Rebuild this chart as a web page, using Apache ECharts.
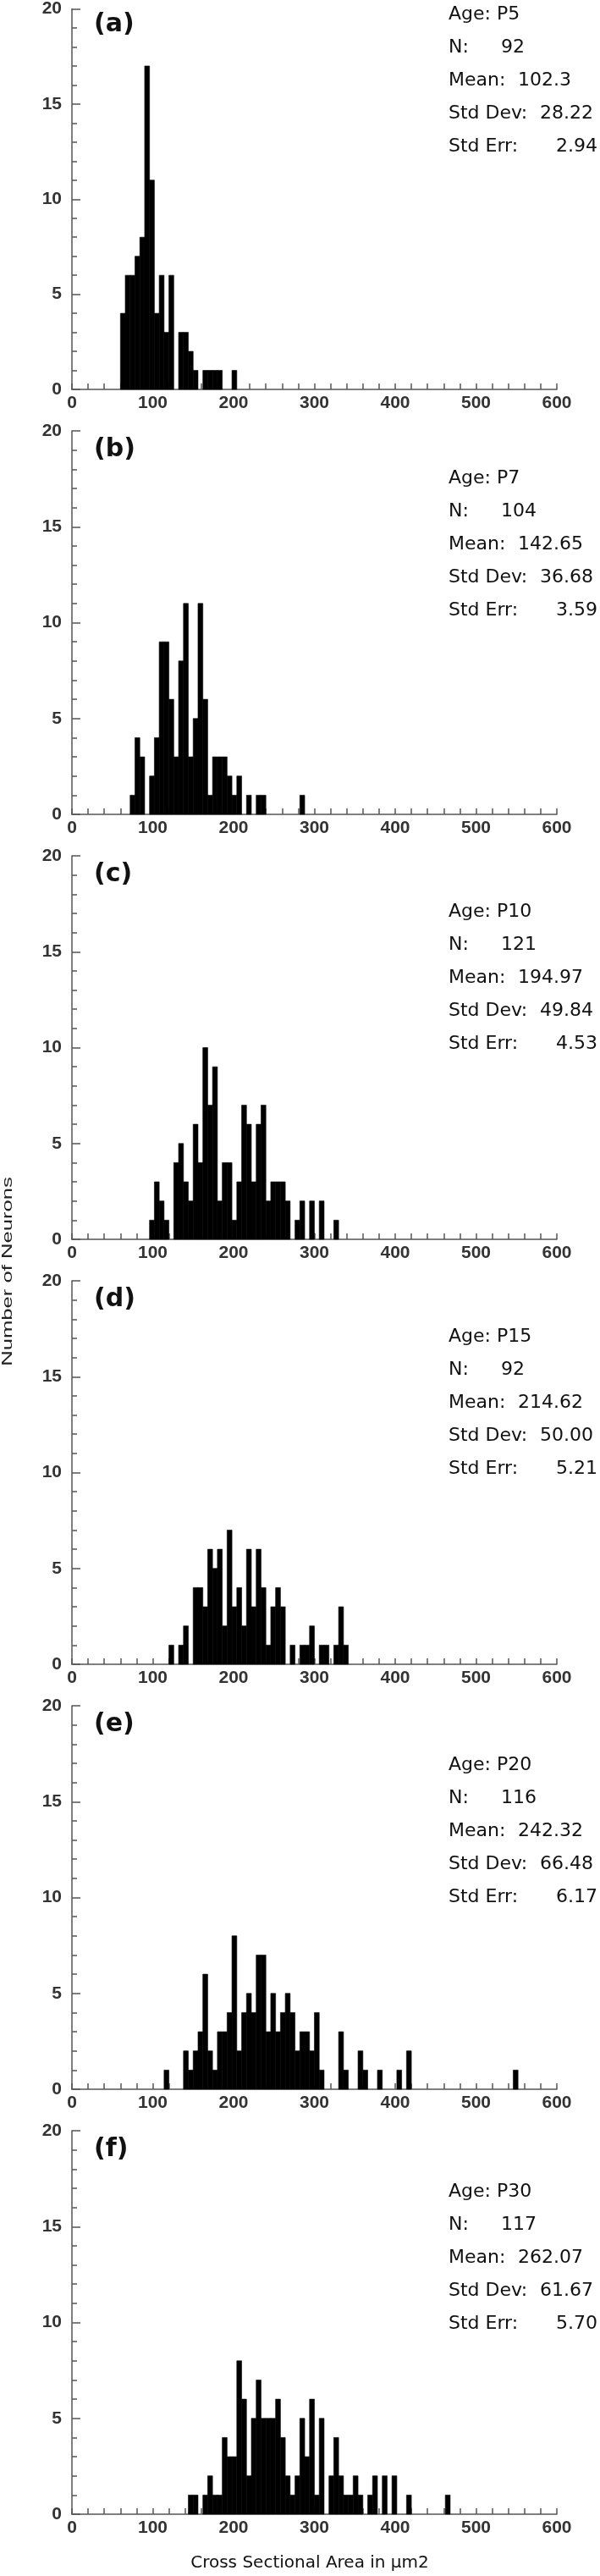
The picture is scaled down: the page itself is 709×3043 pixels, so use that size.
<!DOCTYPE html>
<html>
<head>
<meta charset="utf-8">
<script src="https://cdn.jsdelivr.net/npm/echarts@6/dist/echarts.min.js"></script>
<style>
  html, body { margin: 0; padding: 0; background: #fff; }
  #main { width: 709px; height: 3043px; }
</style>
</head>
<body>
<div id="main"></div>
<script>
  // bin width of the histograms (um2)
  var BIN_WIDTH = 6;

  // (a) P5
  var binsP5 = [60, 66, 72, 78, 84, 90, 96, 102, 108, 114, 120, 132, 138, 144, 150, 162, 168, 174, 180, 198];
  var countsP5 = [4, 6, 6, 7, 8, 17, 11, 4, 6, 3, 6, 3, 3, 2, 1, 1, 1, 1, 1, 1];

  // (b) P7
  var binsP7 = [72, 78, 84, 96, 102, 108, 114, 120, 126, 132, 138, 144, 150, 156, 162, 168, 174, 180, 186, 192, 198, 204, 216, 228, 234, 282];
  var countsP7 = [1, 4, 3, 2, 4, 9, 9, 6, 3, 8, 11, 3, 5, 11, 6, 1, 3, 3, 3, 2, 1, 2, 1, 1, 1, 1];

  // (c) P10
  var binsP10 = [96, 102, 108, 114, 126, 132, 138, 144, 150, 156, 162, 168, 174, 180, 186, 192, 198, 204, 210, 216, 222, 228, 234, 240, 246, 252, 258, 264, 276, 282, 294, 306, 324];
  var countsP10 = [1, 3, 2, 1, 4, 5, 3, 2, 6, 4, 10, 7, 9, 2, 4, 4, 1, 3, 7, 6, 3, 6, 7, 2, 3, 3, 3, 2, 1, 2, 2, 2, 1];

  // (d) P15
  var binsP15 = [120, 132, 138, 150, 156, 162, 168, 174, 180, 186, 192, 198, 204, 210, 216, 222, 228, 234, 240, 246, 252, 258, 270, 282, 288, 294, 306, 312, 324, 330, 336];
  var countsP15 = [1, 1, 2, 4, 4, 3, 6, 5, 6, 2, 7, 3, 4, 2, 6, 3, 6, 4, 1, 3, 4, 3, 1, 1, 1, 2, 1, 1, 1, 3, 1];

  // (e) P20
  var binsP20 = [114, 138, 144, 150, 156, 162, 168, 174, 180, 186, 192, 198, 204, 210, 216, 222, 228, 234, 240, 246, 252, 258, 264, 270, 276, 282, 288, 294, 300, 306, 330, 336, 354, 360, 378, 402, 414, 546];
  var countsP20 = [1, 2, 1, 2, 3, 6, 2, 1, 3, 3, 4, 8, 2, 4, 5, 4, 7, 7, 3, 5, 3, 4, 5, 4, 2, 3, 3, 2, 4, 1, 3, 1, 2, 1, 1, 1, 2, 1];

  // (f) P30
  var binsP30 = [144, 150, 162, 168, 174, 180, 186, 192, 198, 204, 210, 216, 222, 228, 234, 240, 246, 252, 258, 264, 270, 276, 282, 288, 294, 300, 306, 318, 324, 330, 336, 342, 348, 354, 366, 372, 384, 396, 414, 462];
  var countsP30 = [1, 1, 1, 2, 1, 1, 4, 3, 3, 8, 6, 2, 5, 7, 5, 5, 5, 6, 4, 2, 1, 2, 5, 3, 6, 1, 5, 2, 4, 2, 1, 1, 2, 1, 1, 2, 2, 2, 1, 1];

  // stats printed in each panel
  var panelLetters = ['(a)', '(b)', '(c)', '(d)', '(e)', '(f)'];
  var ages = ['P5', 'P7', 'P10', 'P15', 'P20', 'P30'];
  var nValues = ['92', '104', '121', '92', '116', '117'];
  var means = ['102.3', '142.65', '194.97', '214.62', '242.32', '262.07'];
  var stdDevs = ['28.22', '36.68', '49.84', '50.00', '66.48', '61.67'];
  var stdErrs = ['2.94', '3.59', '4.53', '5.21', '6.17', '5.70'];

  var xMin = 0, xMax = 600, xStep = 100;
  var yMin = 0, yMax = 20, yStep = 5;

  var allBins = [binsP5, binsP7, binsP10, binsP15, binsP20, binsP30];
  var allCounts = [countsP5, countsP7, countsP10, countsP15, countsP20, countsP30];

  // layout
  var GRID_LEFT = 85;
  var GRID_WIDTH = 573;
  var PANEL_TOP = 7;
  var PANEL_PITCH = 502;
  var PANEL_HEIGHT = 453;
  var statsOffset = [10, 56, 66, 66, 70, 72];
  var LINE_GAP = 39;

  var tickFont = "'Liberation Sans Narrow', 'Liberation Sans', Arial, sans-serif";
  var textFont = "'DejaVu Sans', Verdana, sans-serif";

  var myChart = echarts.init(document.getElementById('main'), null, { renderer: 'canvas' });

  function renderBin(params, api) {
      var start = api.value(0);
      var n = api.value(1);
      var topLeft = api.coord([start, n]);
      var bottomRight = api.coord([start + BIN_WIDTH, 0]);
      return {
          type: 'rect',
          shape: {
              x: topLeft[0],
              y: topLeft[1],
              width: bottomRight[0] - topLeft[0],
              height: bottomRight[1] - topLeft[1]
          },
          // thin stroke in the same colour closes the seams between bins
          style: { fill: '#000', stroke: '#000', lineWidth: 0.6 }
      };
  }

  function txt(x, y, text, size, weight, align) {
      return {
          type: 'text',
          x: x,
          y: y,
          style: {
              text: text,
              fontSize: size,
              fontFamily: textFont,
              fontWeight: weight || 'normal',
              fill: '#111',
              align: align || 'left',
              verticalAlign: 'middle'
          }
      };
  }

  var grids = [], xAxes = [], yAxes = [], series = [], graphics = [];

  for (var i = 0; i < 6; i++) {
      var panelTop = PANEL_TOP + PANEL_PITCH * i;
      grids.push({ left: GRID_LEFT, top: panelTop, width: GRID_WIDTH, height: PANEL_HEIGHT });

      xAxes.push({
          gridIndex: i,
          type: 'value',
          min: xMin,
          max: xMax,
          interval: xStep,
          axisLine: { lineStyle: { color: '#555', width: 1.5 } },
          axisTick: { inside: true, length: 7, lineStyle: { color: '#555', width: 1.5 } },
          minorTick: { show: true, splitNumber: 5, length: 7, lineStyle: { color: '#555', width: 1.5 } },
          splitLine: { show: false },
          axisLabel: { margin: 6, fontSize: 21, fontWeight: 'bold', fontFamily: tickFont, color: '#333' }
      });

      yAxes.push({
          gridIndex: i,
          type: 'value',
          min: yMin,
          max: yMax,
          interval: yStep,
          axisLine: { show: true, lineStyle: { color: '#555', width: 1.5 } },
          axisTick: { show: true, inside: true, length: 10, lineStyle: { color: '#555', width: 1.5 } },
          minorTick: { show: true, splitNumber: 5, length: 6, lineStyle: { color: '#555', width: 1.5 } },
          splitLine: { show: false },
          axisLabel: { margin: 12, fontSize: 21, fontWeight: 'bold', fontFamily: tickFont, color: '#333' }
      });

      var data = allBins[i].map(function (b, k) { return [b, allCounts[i][k]]; });
      series.push({
          type: 'custom',
          xAxisIndex: i,
          yAxisIndex: i,
          renderItem: renderBin,
          encode: { x: 0, y: 1 },
          data: data,
          silent: true
      });

      // panel letter
      graphics.push(txt(111, panelTop + 22, panelLetters[i], 30, 'bold'));

      // stats block
      var sy = panelTop + statsOffset[i];
      graphics.push(txt(530, sy, 'Age: ' + ages[i], 22));
      graphics.push(txt(530, sy + LINE_GAP, 'N:', 22));
      graphics.push(txt(592, sy + LINE_GAP, nValues[i], 22));
      graphics.push(txt(530, sy + LINE_GAP * 2, 'Mean:', 22));
      graphics.push(txt(612, sy + LINE_GAP * 2, means[i], 22));
      graphics.push(txt(530, sy + LINE_GAP * 3, 'Std Dev:', 22));
      graphics.push(txt(638, sy + LINE_GAP * 3, stdDevs[i], 22));
      graphics.push(txt(530, sy + LINE_GAP * 4, 'Std Err:', 22));
      graphics.push(txt(706, sy + LINE_GAP * 4, stdErrs[i], 22, 'normal', 'right'));
  }

  // axis titles
  graphics.push(txt(366, 3028, 'Cross Sectional Area in μm2', 20, 'normal', 'center'));
  var yTitle = txt(10, 1502, 'Number of Neurons', 16, 'normal', 'center');
  yTitle.rotation = Math.PI / 2;
  yTitle.scaleX = 1.6;
  yTitle.style.fontFamily = "'Liberation Sans', Arial, sans-serif";
  yTitle.style.fill = '#222';
  graphics.push(yTitle);

  var option = {
      animation: false,
      backgroundColor: '#fff',
      grid: grids,
      xAxis: xAxes,
      yAxis: yAxes,
      series: series,
      graphic: { elements: graphics }
  };
  myChart.setOption(option);
</script>
</body>
</html>
